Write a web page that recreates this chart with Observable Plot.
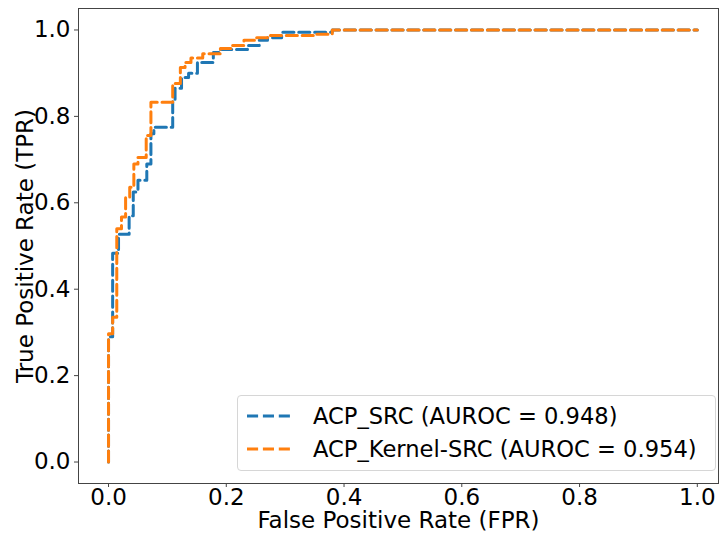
<!DOCTYPE html>
<html>
<head>
<meta charset="utf-8">
<script src="https://cdn.jsdelivr.net/npm/d3@7"></script>
<script src="https://cdn.jsdelivr.net/npm/@observablehq/plot@0.6"></script>
<style>
  html, body { margin: 0; padding: 0; background: #fff; }
  #wrap { position: relative; width: 725px; height: 533px; font-family: "DejaVu Sans", sans-serif; }
  #legend { position: absolute; left: 237px; top: 395px; width: 479px; height: 76px;
    border: 1px solid #d6d6d6; border-radius: 4px; background: rgba(255,255,255,0.8); box-sizing: border-box; }
  .row { position: absolute; left: 0; height: 30px; display: flex; align-items: center; }
  .row svg { margin-left: 9px; }
  .row span { margin-left: 20px; font-size: 22.6px; color: #000; white-space: nowrap; }
</style>
</head>
<body>
<div id="wrap"></div>
<script>
const seriesNames = ["ACP_SRC (AUROC = 0.948)", "ACP_Kernel-SRC (AUROC = 0.954)"];
const seriesColors = ["#1f77b4", "#ff7f0e"];
const xTicks = [0, 0.2, 0.4, 0.6, 0.8, 1.0];
const yTicks = [0, 0.2, 0.4, 0.6, 0.8, 1.0];

const srcFpr = [0, 0, 0.007, 0.007, 0.017, 0.017, 0.035, 0.035, 0.042, 0.042, 0.05, 0.05, 0.065, 0.065, 0.072, 0.072, 0.077, 0.077, 0.109, 0.109, 0.113, 0.113, 0.124, 0.124, 0.136, 0.136, 0.151, 0.151, 0.178, 0.178, 0.19, 0.19, 0.236, 0.236, 0.256, 0.256, 0.27, 0.27, 0.294, 0.294, 0.38, 0.38, 1.0];
const srcTpr = [0, 0.29, 0.29, 0.483, 0.483, 0.527, 0.527, 0.57, 0.57, 0.625, 0.625, 0.652, 0.652, 0.69, 0.69, 0.76, 0.76, 0.775, 0.775, 0.838, 0.838, 0.865, 0.865, 0.89, 0.89, 0.9, 0.9, 0.925, 0.925, 0.948, 0.948, 0.955, 0.955, 0.964, 0.964, 0.976, 0.976, 0.982, 0.982, 0.995, 0.995, 1.0, 1.0];

const kerFpr = [0, 0, 0.007, 0.007, 0.014, 0.014, 0.022, 0.022, 0.029, 0.029, 0.036, 0.036, 0.043, 0.043, 0.05, 0.05, 0.064, 0.064, 0.072, 0.072, 0.109, 0.109, 0.122, 0.122, 0.13, 0.13, 0.14, 0.14, 0.16, 0.16, 0.19, 0.19, 0.21, 0.21, 0.23, 0.23, 0.25, 0.25, 0.27, 0.27, 0.35, 0.35, 0.38, 0.38, 1.0];
const kerTpr = [0, 0.297, 0.297, 0.335, 0.335, 0.54, 0.54, 0.567, 0.567, 0.612, 0.612, 0.636, 0.636, 0.69, 0.69, 0.705, 0.705, 0.756, 0.756, 0.833, 0.833, 0.876, 0.876, 0.913, 0.913, 0.925, 0.925, 0.935, 0.935, 0.945, 0.945, 0.957, 0.957, 0.964, 0.964, 0.976, 0.976, 0.982, 0.982, 0.987, 0.987, 0.99, 0.99, 1.0, 1.0];

const src = srcFpr.map((f, i) => ({fpr: f, tpr: srcTpr[i]}));
const ker = kerFpr.map((f, i) => ({fpr: f, tpr: kerTpr[i]}));

const dash = "11.1,4.8";
const chart = Plot.plot({
  width: 725,
  height: 533,
  marginLeft: 78,
  marginRight: 7,
  marginTop: 8,
  marginBottom: 50,
  style: {fontFamily: "DejaVu Sans", fontSize: "23px", color: "#000", background: "#fff"},
  x: {domain: [-0.051, 1.036]},
  y: {domain: [-0.0497, 1.0497]},
  marks: [
    Plot.line(src, {x: "fpr", y: "tpr", stroke: seriesColors[0], strokeWidth: 3, strokeDasharray: dash, curve: "linear"}),
    Plot.line(ker, {x: "fpr", y: "tpr", stroke: seriesColors[1], strokeWidth: 3, strokeDasharray: dash, curve: "linear"}),
    Plot.frame({stroke: "#444", strokeWidth: 1}),
    Plot.axisX({ticks: xTicks, tickFormat: d3.format(".1f"), tickSize: 4, tickPadding: 1, fontSize: 23, label: null, stroke: "#444"}),
    Plot.axisY({ticks: yTicks, tickFormat: d3.format(".1f"), tickSize: 4, tickPadding: 4, fontSize: 23, label: null, stroke: "#444"}),
    Plot.text(["False Positive Rate (FPR)"], {frameAnchor: "bottom", dy: 44, fontSize: 23, fill: "#000"}),
    Plot.text(["True Positive Rate (TPR)"], {frameAnchor: "left", dx: -53, rotate: -90, textAnchor: "middle", fontSize: 23, fill: "#000"})
  ]
});

const wrap = document.getElementById("wrap");
wrap.appendChild(chart);

const legend = document.createElement("div");
legend.id = "legend";
seriesNames.forEach((name, i) => {
  const row = document.createElement("div");
  row.className = "row";
  row.style.top = (5 + i * 33) + "px";
  row.innerHTML = `<svg width="46" height="10"><line x1="0" y1="5" x2="46" y2="5" stroke="${seriesColors[i]}" stroke-width="3" stroke-dasharray="${dash}"/></svg><span>${name}</span>`;
  legend.appendChild(row);
});
wrap.appendChild(legend);
</script>
</body>
</html>
